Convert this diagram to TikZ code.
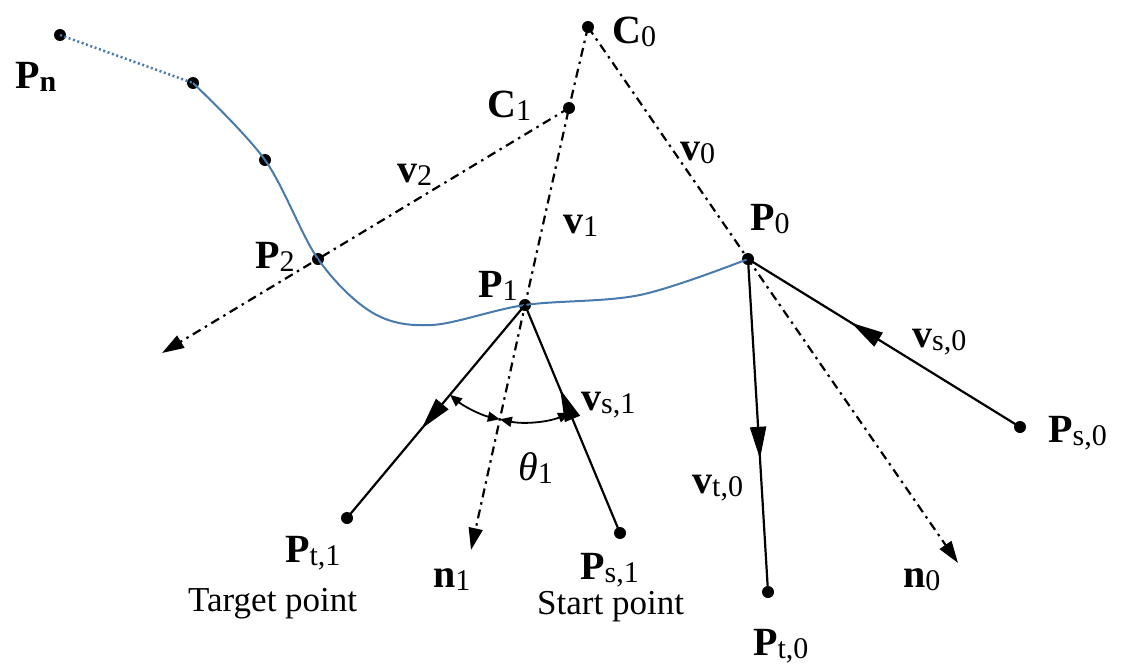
\documentclass[tikz,border=0pt]{standalone}
\usepackage{fontspec}
\setmainfont{Liberation Serif}
\usetikzlibrary{arrows.meta,decorations.markings,angles}
\newcommand\mysub[1]{\raisebox{-3pt}{\fontsize{30}{30}\selectfont\mdseries #1}}
\definecolor{curveblue}{RGB}{72,122,172}
\begin{document}
\begin{tikzpicture}[x=1pt,y=-1pt,
  dot/.style={circle,fill=black,inner sep=0pt,minimum size=12pt},
  lbl/.style={anchor=base west,inner sep=0pt,font=\fontsize{40}{40}\selectfont\bfseries},
  txt/.style={anchor=base west,inner sep=0pt,font=\fontsize{35}{35}\selectfont},
  dashdot/.style={line width=2.2pt,dash pattern=on 9pt off 5pt on 2.5pt off 5pt},
  vecline/.style={line width=2.2pt},
  tipbig/.style={-{Triangle[length=22pt,width=14pt]}},
  midarrow/.style={postaction={decorate},decoration={markings,mark=at position #1 with {\arrow{Triangle[length=32pt,width=16pt]}}}},
  anglearc/.style={draw,line width=1.8pt,{Triangle[length=12pt,width=10pt]}-{Triangle[length=12pt,width=10pt]},angle radius=117pt}
]
\useasboundingbox (0,0) rectangle (1127,664);

% points
\node[dot] (Pn) at (60,35) {};
\node[dot] (a) at (193,83) {};
\node[dot] (b) at (265,160) {};
\node[dot] (P2) at (318,259) {};
\node[dot] (P1) at (525,305) {};
\node[dot] (P0) at (748,259) {};
\node[dot] (C0) at (588,27) {};
\node[dot] (C1) at (569,108) {};
\node[dot] (Pt1) at (347,518) {};
\node[dot] (Ps1) at (620,533) {};
\node[dot] (Pt0) at (768,592) {};
\node[dot] (Ps0) at (1020,427) {};
\coordinate (n0tip) at (958,563);
\coordinate (n1tip) at (471,550);
\coordinate (v2tip) at (162,353);
\coordinate (c1) at (373,313);
\coordinate (c2) at (432,325);
\coordinate (c3) at (640,295);

% trajectory
\draw[curveblue,line width=2.5pt,dash pattern=on 2pt off 2.6pt] (Pn.center) -- (a.center);
\draw[curveblue,line width=2pt] plot[smooth,tension=0.55] coordinates {(a.center) (b.center) (P2.center) (c1) (c2) (P1.center) (c3) (P0.center)};

% dash-dot lines
\draw[dashdot,tipbig] (C0.center) -- (P0.center) -- (n0tip);
\draw[dashdot,tipbig] (C0.center) -- (C1.center) -- (P1.center) -- (n1tip);
\draw[dashdot,tipbig] (C1.center) -- (P2.center) -- (v2tip);

% vectors
\draw[vecline,midarrow=0.58] (P1.center) -- (Pt1.center);
\draw[vecline,midarrow=0.63] (Ps1.center) -- (P1.center);
\draw[vecline,midarrow=0.6] (P0.center) -- (Pt0.center);
\draw[vecline,midarrow=0.62] (Ps0.center) -- (P0.center);

% angle
\pic[anglearc] {angle = Pt1--P1--n1tip};
\pic[anglearc] {angle = n1tip--P1--Ps1};

% labels
\node[lbl] (lPn) at (15,88) {P\mysub{\bfseries n}};
\node[lbl] (lP2) at (255,268) {P\mysub{2}};
\node[lbl] (lC1) at (487,117) {C\mysub{1}};
\node[lbl] (lC0) at (612,43) {C\mysub{0}};
\node[lbl] (lv2) at (397,182) {v\mysub{2}};
\node[lbl] (lv1) at (563,233) {v\mysub{1}};
\node[lbl] (lv0) at (680,160) {v\mysub{0}};
\node[lbl] (lP0) at (750,230) {P\mysub{0}};
\node[lbl] (lP1) at (478,297) {P\mysub{1}};
\node[lbl] (lvs1) at (581,410) {v\mysub{s,1}};
\node[txt,font=\fontsize{40}{40}\selectfont] (lth) at (518,480) {\textit{θ}\mysub{1}};
\node[lbl] (ln1) at (433,587) {n\mysub{1}};
\node[lbl] (lPs1) at (580,579) {P\mysub{s,1}};
\node[txt] (lstart) at (537,614) {Start point};
\node[lbl] (lvs0) at (912,347) {v\mysub{s,0}};
\node[lbl] (lPs0) at (1048,442) {P\mysub{s,0}};
\node[lbl] (lvt0) at (692,493) {v\mysub{t,0}};
\node[lbl] (ln0) at (903,587) {n\mysub{0}};
\node[lbl] (lPt0) at (753,655) {P\mysub{t,0}};
\node[lbl] (lPt1) at (285,562) {P\mysub{t,1}};
\node[txt] (ltarget) at (188,611) {Target point};
\end{tikzpicture}
\end{document}
